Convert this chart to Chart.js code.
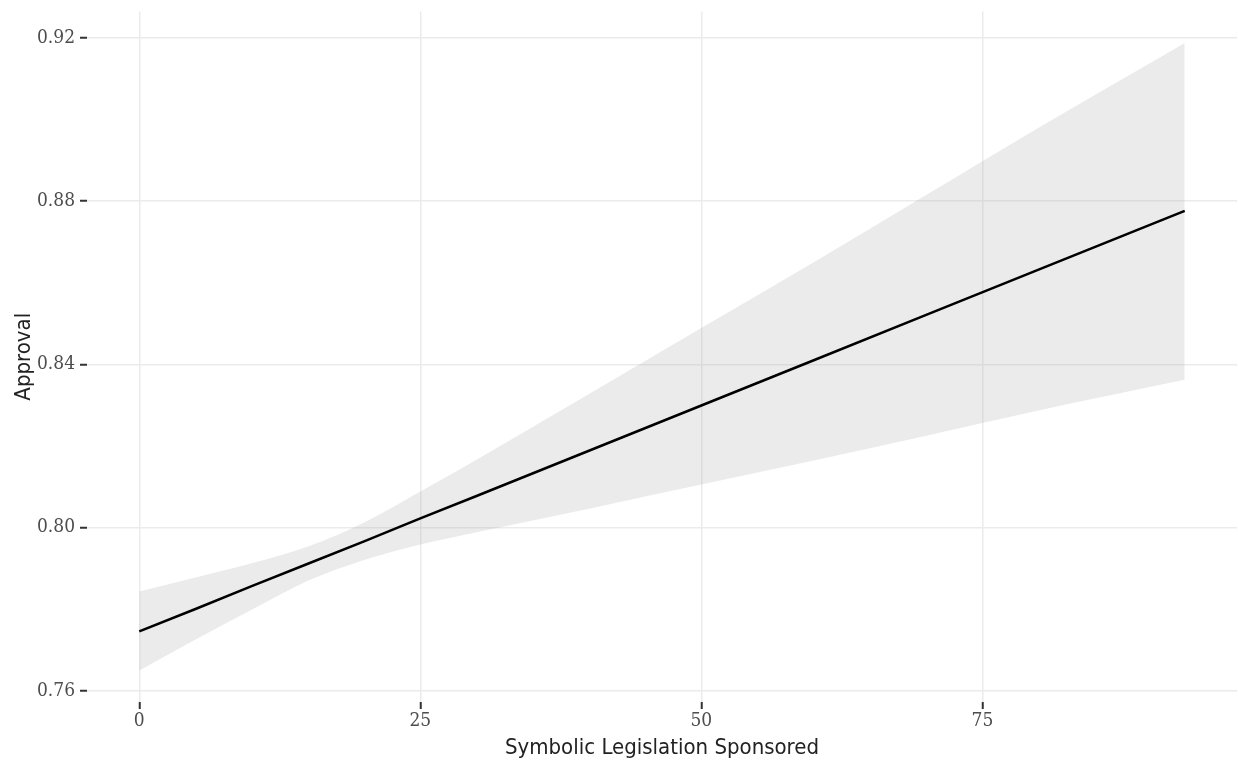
<!DOCTYPE html>
<html>
<head>
<meta charset="utf-8">
<script src="https://cdn.jsdelivr.net/npm/chart.js@4/dist/chart.umd.min.js"></script>
<style>
  html, body { margin: 0; padding: 0; background: #fff; }
  canvas { display: block; }
</style>
</head>
<body>
<canvas id="chart" width="1238" height="763"></canvas>
<script>
// values
const sponsored = [0, 5, 10, 15, 20, 25, 30, 40, 50, 60, 70, 80, 93];
const fitted    = [0.7745, 0.7800, 0.7856, 0.7911, 0.7966, 0.8022, 0.8077, 0.8188, 0.8299, 0.8410, 0.8521, 0.8632, 0.8776];
const upperCI   = [0.7843, 0.7877, 0.7912, 0.7953, 0.8012, 0.8088, 0.8166, 0.8327, 0.8489, 0.8650, 0.8815, 0.8980, 0.9188];
const lowerCI   = [0.7649, 0.7725, 0.7798, 0.7869, 0.7920, 0.7958, 0.7988, 0.8046, 0.8105, 0.8164, 0.8225, 0.8287, 0.8362];

const xTicks = [0, 25, 50, 75];
const yTicks = [0.76, 0.80, 0.84, 0.88, 0.92];

function points(ys) {
    return sponsored.map((x, i) => ({ x: x, y: ys[i] }));
}

// no extra room for half labels at the ends, ggplot doesn't do that
function noEdgePadding(scale) {
    scale.paddingTop = 0;
    scale.paddingBottom = 0;
    scale.paddingLeft = 0;
    scale.paddingRight = 0;
}

const tickFont = { family: "'DejaVu Serif Condensed', 'Liberation Serif', serif", size: 19 };
const titleFont = { family: "'Liberation Sans Narrow', 'DejaVu Sans Condensed', 'Roboto', sans-serif", size: 22 };

const ctx = document.getElementById('chart');
new Chart(ctx, {
    type: 'line',
    data: {
        datasets: [{
            label: 'fit',
            data: points(fitted),
            borderColor: '#000000',
            borderWidth: 2.5,
            pointRadius: 0,
            fill: false
        }, {
            label: 'upper',
            data: points(upperCI),
            borderWidth: 0,
            borderColor: 'rgba(0,0,0,0)',
            pointRadius: 0,
            cubicInterpolationMode: 'monotone',
            backgroundColor: 'rgba(153, 153, 153, 0.2)',
            fill: '+1'
        }, {
            label: 'lower',
            data: points(lowerCI),
            borderWidth: 0,
            borderColor: 'rgba(0,0,0,0)',
            pointRadius: 0,
            cubicInterpolationMode: 'monotone',
            fill: false
        }]
    },
    options: {
        responsive: false,
        animation: false,
        layout: { padding: { top: 11.5, right: 1, left: 0, bottom: 0 } },
        plugins: {
            legend: { display: false },
            tooltip: { enabled: false }
        },
        scales: {
            x: {
                type: 'linear',
                min: -4.65,
                max: 97.65,
                afterBuildTicks: (scale) => { scale.ticks = xTicks.map(v => ({ value: v })); },
                afterFit: (scale) => { scale.height = 61; noEdgePadding(scale); },
                border: { display: false },
                grid: {
                    color: '#ebebeb',
                    lineWidth: 1.5,
                    tickLength: 7,
                    tickColor: '#333333',
                    tickWidth: 2
                },
                ticks: {
                    font: tickFont,
                    color: '#4d4d4d',
                    padding: 1,
                    maxRotation: 0,
                    callback: (v) => String(v)
                },
                title: {
                    display: true,
                    text: 'Symbolic Legislation Sponsored',
                    font: titleFont,
                    color: '#222222',
                    padding: { top: 0, bottom: 2 }
                }
            },
            y: {
                type: 'linear',
                min: 0.7572,
                max: 0.9265,
                afterBuildTicks: (scale) => { scale.ticks = yTicks.map(v => ({ value: v })); },
                afterFit: (scale) => { scale.width = 87; noEdgePadding(scale); },
                border: { display: false },
                grid: {
                    color: '#ebebeb',
                    lineWidth: 1.5,
                    tickLength: 7,
                    tickColor: '#333333',
                    tickWidth: 2
                },
                ticks: {
                    font: tickFont,
                    color: '#4d4d4d',
                    padding: 5,
                    callback: (v) => v.toFixed(2)
                },
                title: {
                    display: true,
                    text: 'Approval',
                    font: titleFont,
                    color: '#222222',
                    padding: { top: 11, bottom: 0 }
                }
            }
        }
    }
});
</script>
</body>
</html>
